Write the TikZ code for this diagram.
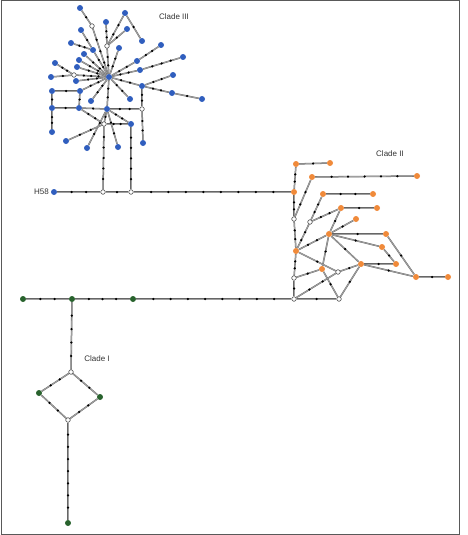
\documentclass[tikz,border=0pt]{standalone}
\usepackage{fontspec}
\setmainfont{Liberation Sans}
\pgfdeclarelayer{background}
\pgfsetlayers{background,main}
\definecolor{nblue}{RGB}{48,94,190}
\definecolor{norange}{RGB}{240,138,58}
\definecolor{ngreen}{RGB}{40,98,45}
\tikzset{
  bn/.style={circle,fill=nblue,inner sep=0pt,minimum size=6pt},
  on/.style={circle,fill=norange,inner sep=0pt,minimum size=6pt},
  gn/.style={circle,fill=ngreen,inner sep=0pt,minimum size=6pt},
  wn/.style={circle,fill=white,draw=black!80,line width=0.5pt,inner sep=0pt,minimum size=4.6pt},
  dotn/.style={circle,fill=black,inner sep=0pt,minimum size=2.5pt},
  edge/.style={draw=black!60,line width=0.3pt,double=gray!75,double distance=0.9pt},
  lbl/.style={font=\fontsize{8}{9}\selectfont,text=black!80,inner sep=0pt},
}
\newcommand\ed[3]{%
  \begin{pgfonlayer}{background}\draw[edge] (#1) -- (#2);\end{pgfonlayer}%
  \foreach \i [evaluate=\i as \p using {\i/(#3+1)}] in {1,...,#3}{\path (#1) -- (#2) node[dotn,pos=\p]{};}%
}
\begin{document}
\begin{tikzpicture}[x=1pt,y=-1pt]
\useasboundingbox (0,0) rectangle (467,535);
\draw[black!65,line width=1pt] (1,0.5) rectangle (459.5,534.5);
% ---------- Clade III ----------
\node[bn] (h) at (109,77) {};
\node[bn] (a1) at (80,8) {};
\node[wn] (w1) at (92,26) {};
\node[bn] (a2) at (106,22) {};
\node[wn] (w2) at (107,46) {};
\node[bn] (a3) at (125,13) {};
\node[bn] (a4) at (81,30) {};
\node[bn] (a5) at (127,29) {};
\node[bn] (a6) at (71,43) {};
\node[bn] (a7) at (93,50) {};
\node[bn] (a8) at (119,48) {};
\node[bn] (a9) at (142,41) {};
\node[bn] (a10) at (161,45) {};
\node[bn] (a11) at (84,54) {};
\node[bn] (a12) at (79,60) {};
\node[bn] (a13) at (55,63) {};
\node[wn] (w3) at (74,75) {};
\node[bn] (a14) at (77,67) {};
\node[bn] (a15) at (137,61) {};
\node[bn] (a16) at (183,57) {};
\node[bn] (a17) at (140,70) {};
\node[bn] (a18) at (173,75) {};
\node[bn] (a19) at (51,77) {};
\node[bn] (a20) at (76,81) {};
\node[bn] (a21) at (142,86) {};
\node[bn] (a22) at (172,93) {};
\node[bn] (a23) at (202,99) {};
\node[bn] (a24) at (52,91) {};
\node[bn] (a25) at (80,91) {};
\node[bn] (a26) at (91,101) {};
\node[bn] (a27) at (130,99) {};
\node[bn] (a28) at (52,108) {};
\node[bn] (a29) at (79,108) {};
\node[bn] (h2) at (107,109) {};
\node[wn] (w4) at (142,109) {};
\node[bn] (a30) at (131,124) {};
\node[wn] (w5) at (104,124) {};
\node[bn] (a31) at (52,132) {};
\node[bn] (a32) at (66,141) {};
\node[bn] (a33) at (87,148) {};
\node[bn] (a34) at (118,147) {};
\node[bn] (a35) at (143,143) {};
\node[bn] (h58) at (54,192) {};
\node[wn] (w6) at (103,192) {};
\node[wn] (w7) at (131,192) {};
\node[lbl,anchor=east] (l58) at (49,192) {H58};
\node[lbl] (l3) at (174,17) {Clade III};
\ed{a1}{w1}{1} \ed{w1}{h}{3}
\ed{a4}{a7}{1} \ed{a6}{a7}{2} \ed{a7}{h}{2}
\ed{a2}{w2}{2} \ed{a3}{w2}{2} \ed{a3}{a9}{1} \ed{a5}{w2}{1} \ed{w2}{h}{2}
\ed{a8}{h}{2} \ed{a15}{a10}{2} \ed{h}{a15}{2}
\ed{a16}{a17}{3} \ed{a17}{h}{2}
\ed{a18}{a21}{2} \ed{a21}{h}{2} \ed{a21}{a22}{2} \ed{a22}{a23}{1}
\ed{a21}{w4}{2} \ed{w4}{a35}{2}
\ed{a11}{h}{2} \ed{a12}{h}{2} \ed{a14}{h}{2}
\ed{a13}{w3}{2} \ed{w3}{h}{3} \ed{a19}{w3}{1} \ed{a20}{h}{2}
\ed{a24}{a25}{1} \ed{a25}{h}{2} \ed{a24}{a28}{1} \ed{a25}{a29}{1}
\ed{a28}{a29}{1} \ed{a29}{h2}{1} \ed{h2}{w4}{2} \ed{a28}{a31}{2}
\ed{h}{h2}{2} \ed{a27}{h}{2} \ed{a26}{h}{2}
\ed{h2}{a30}{2} \ed{h2}{w5}{1} \ed{w5}{a30}{2}
\ed{h2}{a34}{2} \ed{h2}{a33}{2} \ed{w5}{a32}{2} \ed{a29}{w5}{2}
\ed{w5}{w6}{5} \ed{a30}{w7}{5}
\ed{h58}{w6}{2} \ed{w6}{w7}{1}
% ---------- Clade II ----------
\node[on] (o1) at (296,164) {};
\node[on] (o2) at (330,163) {};
\node[on] (o3) at (312,177) {};
\node[on] (o4) at (417,176) {};
\node[on] (o5) at (294,192) {};
\node[on] (o6) at (323,194) {};
\node[on] (o7) at (373,194) {};
\node[on] (o8) at (341,208) {};
\node[on] (o9) at (377,208) {};
\node[on] (o10) at (356,219) {};
\node[on] (o11) at (329,234) {};
\node[on] (o12) at (386,234) {};
\node[on] (o13) at (296,251) {};
\node[on] (o14) at (382,247) {};
\node[on] (o15) at (361,264) {};
\node[on] (o16) at (396,264) {};
\node[on] (o17) at (322,269) {};
\node[on] (o18) at (416,277) {};
\node[on] (o19) at (448,277) {};
\node[wn] (v1) at (294,219) {};
\node[wn] (v2) at (310,222) {};
\node[wn] (v3) at (294,278) {};
\node[wn] (v4) at (338,272) {};
\node[wn] (v5) at (294,299) {};
\node[wn] (v6) at (339,299) {};
\node[lbl] (l2) at (390,154) {Clade II};
\ed{w7}{o5}{8}
\ed{o1}{o2}{1} \ed{o1}{o5}{2} \ed{o5}{v1}{2}
\ed{o3}{o4}{5} \ed{o3}{v1}{2}
\ed{o6}{o7}{2} \ed{o6}{v2}{2}
\ed{o8}{o9}{1} \ed{o8}{v2}{2} \ed{o8}{o11}{1}
\ed{o11}{o10}{1} \ed{o11}{o12}{1}
\ed{v1}{o13}{2} \ed{v2}{o13}{2} \ed{o11}{o13}{2}
\ed{o11}{o14}{1} \ed{o11}{o15}{1} \ed{o14}{o16}{1}
\ed{o12}{o18}{1} \ed{o15}{o16}{1} \ed{o15}{o18}{1}
\ed{o11}{o17}{1} \ed{o13}{v4}{1} \ed{v4}{o15}{1}
\ed{o17}{v3}{1} \ed{o17}{v6}{1} \ed{v6}{o15}{1}
\ed{o13}{v3}{2} \ed{v3}{v5}{1} \ed{v5}{v4}{2} \ed{v5}{v6}{1}
\ed{o18}{o19}{1}
% ---------- Clade I ----------
\node[gn] (g1) at (23,299) {};
\node[gn] (g2) at (72,299) {};
\node[gn] (g3) at (133,299) {};
\node[wn] (c1) at (71,372) {};
\node[gn] (g4) at (39,393) {};
\node[gn] (g5) at (100,397) {};
\node[wn] (c2) at (68,420) {};
\node[gn] (g6) at (68,523) {};
\node[lbl] (l1) at (97,359) {Clade I};
\ed{g1}{g2}{2} \ed{g2}{g3}{3} \ed{g3}{v5}{8}
\ed{g2}{c1}{4} \ed{c1}{g4}{2} \ed{c1}{g5}{2}
\ed{g4}{c2}{2} \ed{g5}{c2}{2} \ed{c2}{g6}{7}
\end{tikzpicture}
\end{document}
